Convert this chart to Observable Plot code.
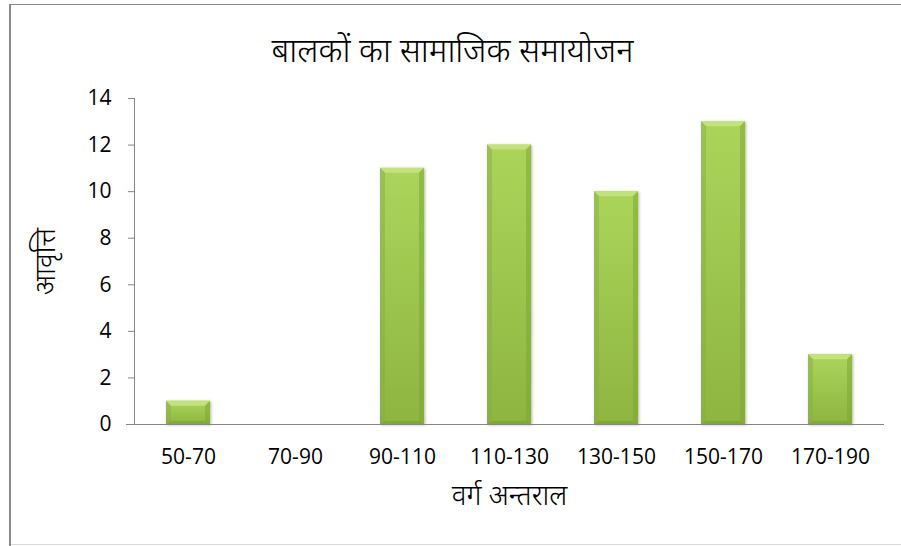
<!DOCTYPE html>
<html>
<head>
<meta charset="utf-8">
<script src="https://cdn.jsdelivr.net/npm/d3@7"></script>
<script src="https://cdn.jsdelivr.net/npm/@observablehq/plot@0.6"></script>
<style>
  body { margin: 0; background: #fff; }
  #chart { width: 901px; height: 546px; overflow: hidden; }
</style>
</head>
<body>
<div id="chart"></div>
<script>
// Class intervals and the number of boys in each
const classes = ["50-70", "70-90", "90-110", "110-130", "130-150", "150-170", "170-190"];
const frequencies = [1, 0, 11, 12, 10, 13, 3];
const yTicks = [0, 2, 4, 6, 8, 10, 12, 14];

const chartTitle = "बालकों का सामाजिक समायोजन";
const xTitle = "वर्ग अन्तराल";
const yTitle = "आवृत्ति";

const data = classes.map((c, i) => ({cls: c, freq: frequencies[i]}));

const axisGray = "#868686";
const fontFamily = "'Open Sans', 'Noto Sans', sans-serif";

// Gradient and shadow used by the bars
function defs() {
  const d = d3.create("svg:defs");
  const g = d.append("linearGradient").attr("id", "barFill")
    .attr("x1", 0).attr("y1", 0).attr("x2", 0).attr("y2", 1);
  g.append("stop").attr("offset", "0%").attr("stop-color", "#abd55a");
  g.append("stop").attr("offset", "100%").attr("stop-color", "#8db540");
  const f = d.append("filter").attr("id", "barShadow")
    .attr("x", "-30%").attr("y", "-10%").attr("width", "160%").attr("height", "120%");
  f.append("feDropShadow").attr("dx", 1).attr("dy", 1).attr("stdDeviation", 1.6)
    .attr("flood-color", "#000").attr("flood-opacity", 0.3);
  return d.node();
}

// Outer chart border
function border() {
  const g = d3.create("svg:g");
  g.append("rect").attr("x", 10).attr("y", 4.5).attr("width", 900).attr("height", 540)
    .attr("fill", "none").attr("stroke", "#d9d9d9");
  g.append("line").attr("x1", 10).attr("x2", 10).attr("y1", 4).attr("y2", 546)
    .attr("stroke", "#8a8a8a").attr("stroke-width", 2);
  g.append("line").attr("x1", 9).attr("x2", 901).attr("y1", 4.5).attr("y2", 4.5)
    .attr("stroke", "#8a8a8a");
  return g.node();
}

// Adds bevelled edges on top of each rendered bar
function bevel(index, scales, values, dimensions, context, next) {
  const g = next(index, scales, values, dimensions, context);
  const sel = d3.select(g);
  sel.attr("filter", "url(#barShadow)");
  const extra = [];
  sel.selectAll("rect").each(function () {
    const x1 = +this.getAttribute("x"), w = +this.getAttribute("width");
    const yt = +this.getAttribute("y"), h = +this.getAttribute("height");
    if (!(h > 0)) return;
    const x2 = x1 + w, yb = yt + h;
    const b = Math.min(5, h / 2, w / 2);
    const bb = Math.min(3, h / 2);
    extra.push({pts: [[x1, yt], [x2, yt], [x2 - b, yt + b], [x1 + b, yt + b]], fill: "#c4e382", op: 0.9});
    extra.push({pts: [[x1, yt], [x1 + b, yt + b], [x1 + b, yb - bb], [x1, yb]], fill: "#86b03b", op: 0.5});
    extra.push({pts: [[x2, yt], [x2 - b, yt + b], [x2 - b, yb - bb], [x2, yb]], fill: "#7ea636", op: 0.55});
    extra.push({pts: [[x1, yb], [x1 + b, yb - bb], [x2 - b, yb - bb], [x2, yb]], fill: "#6f9530", op: 0.4});
  });
  for (const e of extra) {
    sel.append("polygon").attr("points", e.pts.map(p => p.join(",")).join(" "))
      .attr("fill", e.fill).attr("opacity", e.op);
  }
  return g;
}

const chart = Plot.plot({
  width: 901,
  height: 546,
  marginLeft: 134,
  marginRight: 17,
  marginTop: 98,
  marginBottom: 122,
  style: {fontFamily, fontSize: "21px", color: "#000", background: "#fff", overflow: "visible"},
  x: {domain: classes, paddingInner: 0.59, paddingOuter: 0.295, label: null},
  y: {domain: [0, 14], label: null},
  marks: [
    border,
    defs,
    Plot.barY(data, {x: "cls", y: "freq", fill: "url(#barFill)", render: bevel}),
    Plot.frame({anchor: "left", stroke: axisGray}),
    Plot.ruleY([0], {stroke: axisGray, insetLeft: -8}),
    Plot.axisY({ticks: yTicks, tickSize: 6, tickPadding: 17, stroke: axisGray, tickFormat: d => d, label: null}),
    Plot.axisX({tickSize: 0, tickPadding: 25, label: null}),
    Plot.text([chartTitle], {frameAnchor: "top", textAnchor: "middle", dx: -57, dy: -60, fontSize: 33, fontWeight: 300, fill: "#000"}),
    Plot.text([xTitle], {frameAnchor: "bottom", textAnchor: "middle", dy: 80, fontSize: 28, fontWeight: 300, fill: "#000"}),
    Plot.text([yTitle], {frameAnchor: "left", textAnchor: "middle", dx: -88, rotate: -90, fontSize: 28, fontWeight: 300, fill: "#000"})
  ]
});

document.getElementById("chart").append(chart);
</script>
</body>
</html>
